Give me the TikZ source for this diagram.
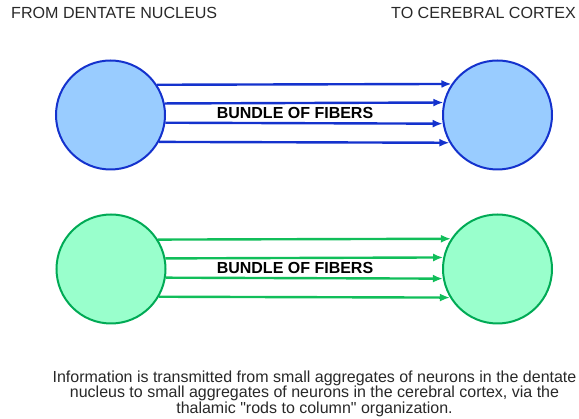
\documentclass[tikz,border=0pt]{standalone}
\usepackage{fontspec}
\setmainfont{Liberation Sans}
\usetikzlibrary{arrows.meta}
\definecolor{bluefill}{RGB}{153,204,255}
\definecolor{bluedraw}{RGB}{20,50,205}
\definecolor{greenfill}{RGB}{153,255,204}
\definecolor{greendraw}{RGB}{0,170,85}
\definecolor{greenarrow}{RGB}{17,190,90}
\definecolor{txtgray}{RGB}{40,40,40}
\tikzset{
  nucleus/.style={circle, inner sep=0pt, minimum size=109pt, line width=2pt},
  bluenuc/.style={nucleus, fill=bluefill, draw=bluedraw},
  greennuc/.style={nucleus, fill=greenfill, draw=greendraw},
  fiber/.style={line width=2.4pt, -{Latex[length=10pt,width=8pt]}},
  bluefiber/.style={fiber, draw=bluedraw},
  greenfiber/.style={fiber, draw=greenarrow},
  header/.style={inner sep=0pt, text=txtgray, font=\fontsize{16.1}{18}\selectfont},
  bundle/.style={inner sep=0pt, text=black, font=\bfseries\fontsize{16}{18}\selectfont},
  caption/.style={inner sep=0pt, text=txtgray, align=center, font=\fontsize{16}{15.6}\selectfont}
}
\begin{document}
\begin{tikzpicture}[x=1pt,y=-1pt]
\useasboundingbox (0,0) rectangle (579,419);
% headers
\node[header, anchor=base west] (from) at (11,18.3) {FROM DENTATE NUCLEUS};
\node[header, anchor=base east] (to) at (576,18.3) {TO CEREBRAL CORTEX};
% blue pair
\node[bluenuc] (bl) at (110.5,115) {};
\node[bluenuc] (br) at (497.5,115) {};
\draw[bluefiber] (bl.33.95) -- (br.146.05);
\draw[bluefiber] (bl.12.49) -- (br.167.51);
\draw[bluefiber] (bl.-8.29) -- (br.-171.71);
\draw[bluefiber] (bl.-29.1) -- (br.-150.9);
\node[bundle] (bundleblue) at (295,113) {BUNDLE OF FIBERS};
% green pair
\node[greennuc] (gl) at (111,269) {};
\node[greennuc] (gr) at (497.5,269) {};
\draw[greenfiber] (gl.32.7) -- (gr.147.3);
\draw[greenfiber] (gl.11.43) -- (gr.168.57);
\draw[greenfiber] (gl.-9.33) -- (gr.-170.67);
\draw[greenfiber] (gl.-30.3) -- (gr.-149.7);
\node[bundle] (bundlegreen) at (295,268) {BUNDLE OF FIBERS};
% caption
\node[caption, anchor=north] (cap) at (314.5,370.3) {Information is transmitted from small aggregates of neurons in the dentate\\nucleus to small aggregates of neurons in the cerebral cortex, via the\\thalamic \textquotedbl rods to column\textquotedbl\ organization.};
\end{tikzpicture}
\end{document}
